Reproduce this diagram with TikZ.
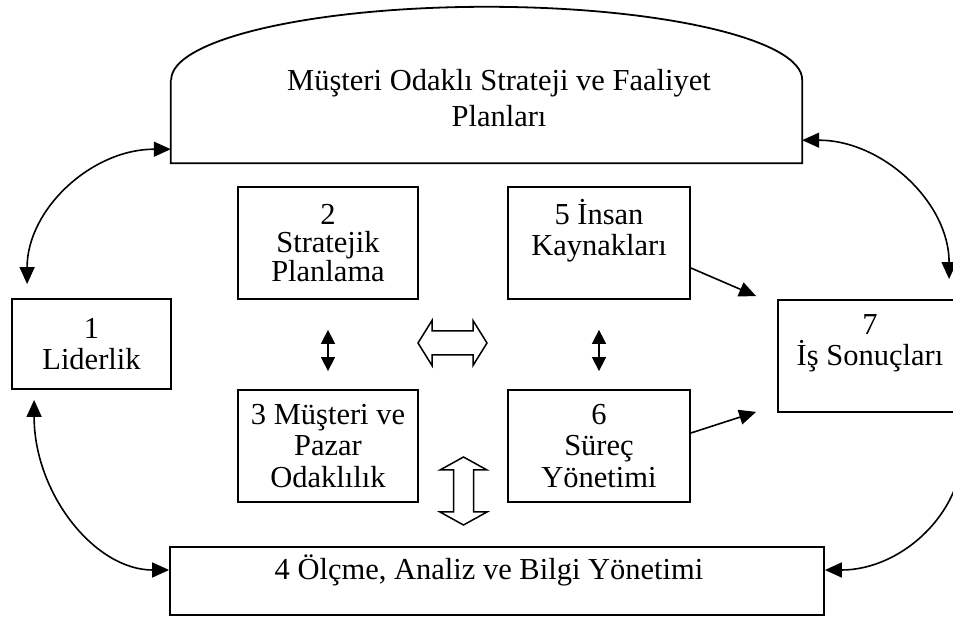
\documentclass[tikz,border=0pt]{standalone}
\usepackage{fontspec}
\setmainfont{Liberation Serif}
\usetikzlibrary{arrows.meta}
\begin{document}
\begin{tikzpicture}[x=1pt,y=1pt,
  box/.style={draw, line width=1.8pt, inner sep=0pt, align=center,
    font=\fontsize{30.5}{31.5}\selectfont},
  link/.style={line width=1.6pt, >={Triangle[length=17pt,width=15pt]}, <->},
  single/.style={line width=1.6pt, >={Triangle[length=17pt,width=15pt]}, ->},
  small/.style={line width=1.6pt, >={Triangle[length=14pt,width=14pt]}, <->},
  hollow/.style={line width=1.5pt, line join=miter, fill=white}]
\useasboundingbox (0,0) rectangle (953,618);
\begin{scope}
\clip (0,0) rectangle (953,618);

% criteria boxes
\node[box, minimum width=159pt, minimum height=90pt] (b1) at (91.5,274) {1\\Liderlik};
\node[box, minimum width=180pt, minimum height=112pt, font=\fontsize{30.5}{28.5}\selectfont] (b2) at (328,375) {2\\Stratejik\\Planlama};
\node[box, minimum width=180pt, minimum height=112pt] (b3) at (328,172) {3 Müşteri ve\\Pazar\\Odaklılık};
\node[box, minimum width=182pt, minimum height=112pt] (b5) at (599,375) {5 İnsan\\Kaynakları\\\mbox{}};
\node[box, minimum width=182pt, minimum height=112pt] (b6) at (599,172) {6\\Süreç\\Yönetimi};
\node[box, minimum width=184pt, minimum height=112pt] (b7) at (870,262) {7\\İş Sonuçları\\\mbox{}};
\node[box, minimum width=654pt, minimum height=68pt] (b4) at (497,37) {};
\node[font=\fontsize{30.5}{31.5}\selectfont] (b4text) at (489,48) {4 Ölçme, Analiz ve Bilgi Yönetimi};

% strategy plan shape with a rounded top
\node[minimum width=631pt, minimum height=83pt, inner sep=0pt] (top) at (486.5,496.5) {};
\draw[line width=1.8pt] (top.north west) -- (top.south west) -- (top.south east)
  -- (top.north east) arc[start angle=0, end angle=180, x radius=315.5, y radius=73];
\node[align=center, font=\fontsize{30.5}{36}\selectfont] (toptext) at (499,520)
  {Müşteri Odaklı Strateji ve Faaliyet\\Planları};

% curved links around the frame
\draw[link] ([shift={(16,14)}]b1.north west) .. controls +(0,75) and +(-79,0) .. ([yshift=14]top.south west);
\draw[link] ([shift={(23,-10)}]b1.south west) .. controls +(0,-94) and +(-74,0) .. ([yshift=11]b4.west);
\draw[link] ([yshift=23]top.south east) .. controls +(80,0) and +(0,77) .. ([shift={(172,20)}]b7.north west);
\draw[link] ([yshift=11]b4.east) .. controls +(78,0) and +(6,-85) .. ([shift={(184,-12)}]b7.south west);

% links to business results
\draw[single] ([yshift=-25]b5.east) -- ([shift={(-21,3)}]b7.north west);
\draw[single] ([yshift=13]b6.east) -- ([shift={(-21,1)}]b7.south west);

% small two-way arrows
\draw[small] ([yshift=-30]b2.south) -- ([yshift=18]b3.north);
\draw[small] ([yshift=-30]b5.south) -- ([yshift=18]b6.north);

% hollow block arrows
\coordinate (hh) at (452.5,275);
\draw[hollow] (hh) ++(-34.5,0) -- ++(14,22.5) -- ++(0,-10.5) -- ++(41,0) -- ++(0,10.5)
  -- ++(14,-22.5) -- ++(-14,-22.5) -- ++(0,10.5) -- ++(-41,0) -- ++(0,-10.5) -- cycle;
\coordinate (hv) at (463.5,127);
\draw[hollow] (hv) ++(0,34) -- ++(-23.5,-13) -- ++(13.5,0) -- ++(0,-42) -- ++(-13.5,0)
  -- ++(23.5,-13) -- ++(23.5,13) -- ++(-13.5,0) -- ++(0,42) -- ++(13.5,0) -- cycle;
\end{scope}
\end{tikzpicture}
\end{document}
